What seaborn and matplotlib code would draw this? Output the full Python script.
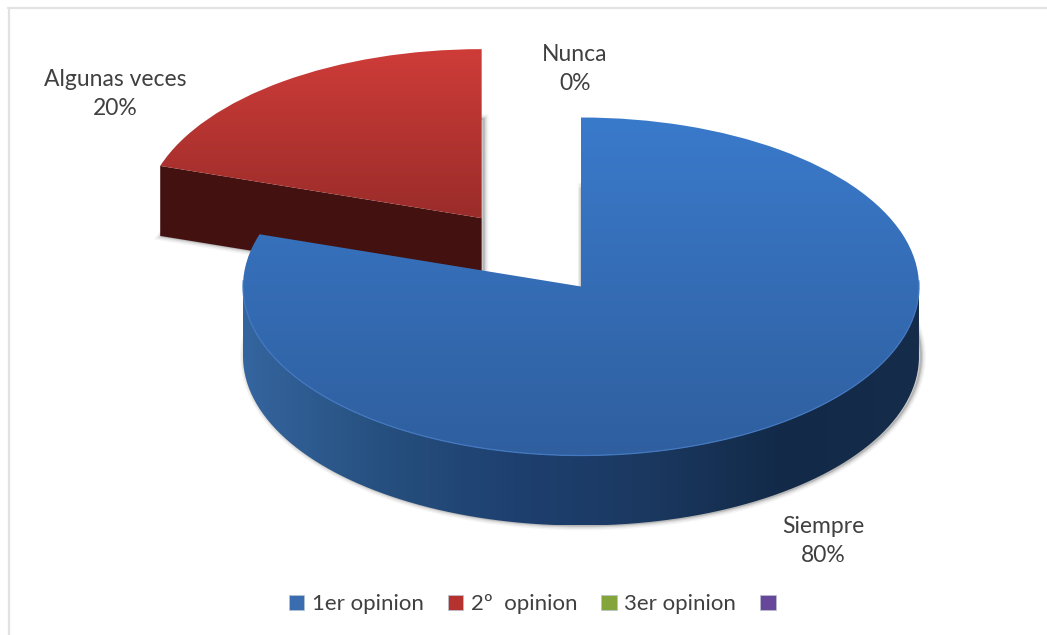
import numpy as np
import seaborn as sns
import matplotlib
matplotlib.use("Agg")
import matplotlib.pyplot as plt
from matplotlib.lines import Line2D
from matplotlib.patches import Patch, PathPatch
from matplotlib.path import Path

# Survey answers and their shares
answers = ["Siempre", "Algunas veces", "Nunca"]
shares = [80, 20, 0]
pull_out = [0, 0.50, 0]
legend_labels = ["1er opinion", "2º  opinion", "3er opinion", ""]
legend_colors = ["#3a6db0", "#b5322f", "#84a53c", "#67479a"]

# Shading for the top faces (back to front) and the blue outer wall (left to right)
top_shades = {
    "Siempre": ["#2f5f9f", "#3a7acb"],
    "Algunas veces": ["#9a2c2a", "#ce3c38"],
}
wall_shades = ["#35659f", "#26507f", "#1e4070", "#1b3860", "#122a48", "#152c4b"]
cut_face_color = "#431110"

W, H = 1047, 635
CX, CY = 581, 286.5    # centre of the main slice, in pixels
RX, RY = 338, 169      # ellipse radii of the tilted disc, in pixels
DEPTH = 70 / RY        # disc thickness in axis units

sns.set_theme(style="white")
plt.rcParams["font.family"] = ["Lato", "DejaVu Sans"]
text_color = "#404040"

fig = plt.figure(figsize=(W / 100, H / 100), dpi=100, facecolor="white")
ax = fig.add_axes([0, 0, 1, 1])


def pie_layer(center=(0, 0), **wedgeprops):
    wedges, _ = ax.pie(shares, explode=pull_out, startangle=90, counterclock=False,
                       radius=1, center=center, colors=legend_colors[:3],
                       wedgeprops=wedgeprops)
    return wedges


def arc_points(wedge, a, b, n=200):
    t = np.radians(np.linspace(a, b, n))
    cx, cy = wedge.center
    return np.column_stack([cx + wedge.r * np.cos(t), cy + wedge.r * np.sin(t)])


def fill_gradient(path, colors, extent, vertical, zorder):
    cmap = sns.blend_palette(colors, as_cmap=True)
    ramp = np.linspace(0, 1, 256)
    ramp = ramp[:, None] if vertical else ramp[None, :]
    img = ax.imshow(ramp, cmap=cmap, extent=extent, origin="lower", aspect="auto",
                    zorder=zorder, interpolation="bilinear")
    clip = PathPatch(path, transform=ax.transData, facecolor="none", edgecolor="none")
    ax.add_patch(clip)
    img.set_clip_path(clip)


# Soft shadow cast by the underside of the slices
for lw, alpha in [(7, 0.05), (5, 0.08), (3, 0.12), (1.5, 0.18)]:
    for w in pie_layer(center=(2 / RX, -DEPTH), linewidth=lw):
        w.set_facecolor("none")
        w.set_edgecolor((0.25, 0.25, 0.25, alpha))
        w.set_zorder(1)

# Top faces
tops = pie_layer(linewidth=0)
for name, w in zip(answers, tops):
    if w.theta2 - w.theta1 <= 0:
        continue
    base = 6 if name == "Siempre" else 3
    cx, cy = w.center
    w.set_zorder(base)
    w.set_facecolor("none")

    # Extruded side of the slice
    if name == "Siempre":
        front = arc_points(w, -180, 0)
        wall = np.vstack([front, (front - [0, DEPTH])[::-1], front[:1]])
        fill_gradient(Path(wall), wall_shades,
                      (cx - 1, cx + 1, cy - 1 - DEPTH, cy), False, base - 1)
        gradient_span = (cx - 1, cx + 1, cy - 1, cy + 1)
    else:
        edge = arc_points(w, w.theta2, w.theta2, 1)[0]
        centre = np.array([cx, cy])
        quad = np.array([edge, centre, centre - [0, DEPTH], edge - [0, DEPTH], edge])
        ax.add_patch(PathPatch(Path(quad), facecolor=cut_face_color,
                               edgecolor="none", zorder=base - 1))
        gradient_span = (cx - 1, cx + 1, cy, cy + 1)

    # Top surface
    fill_gradient(w.get_path().transformed(w.get_patch_transform()), top_shades[name],
                  gradient_span, True, base)

# Light rim along the front of the main slice
rim = arc_points(tops[0], -182, 2)
ax.plot(rim[:, 0], rim[:, 1], color="#4378c0", lw=0.9, zorder=7, solid_capstyle="round")

ax.set_aspect("auto")
ax.set_xlim(-CX / RX, (W - CX) / RX)
ax.set_ylim(-(H - CY) / RY, CY / RY)
ax.axis("off")

# Data labels
label_centres = {"Siempre": (823, 541), "Algunas veces": (115, 94), "Nunca": (575, 69)}
for name, share in zip(answers, shares):
    x, y = label_centres[name]
    fig.text(x / W, 1 - y / H, f"{name}\n{share}%", ha="center", va="center",
             fontsize=16.5, color=text_color, linespacing=1.42)

# Chart frame: only its top and left edges fall inside the canvas
fig.add_artist(Line2D([8.5 / W, 8.5 / W], [0, 1 - 8 / H], color="#e2e2e2", lw=1.6))
fig.add_artist(Line2D([8 / W, 1], [1 - 8 / H, 1 - 8 / H], color="#e2e2e2", lw=1.6))

handles = [Patch(facecolor=c, edgecolor="#b8c4d0", linewidth=0.5) for c in legend_colors]
fig.legend(handles, legend_labels, ncol=4, loc="center", frameon=False,
           bbox_to_anchor=(536 / W, 1 - 604 / H), fontsize=16, labelcolor=text_color,
           handlelength=0.68, handleheight=0.68, handletextpad=0.34, columnspacing=1.1)

fig.savefig("out.png", dpi=100, facecolor="white")
